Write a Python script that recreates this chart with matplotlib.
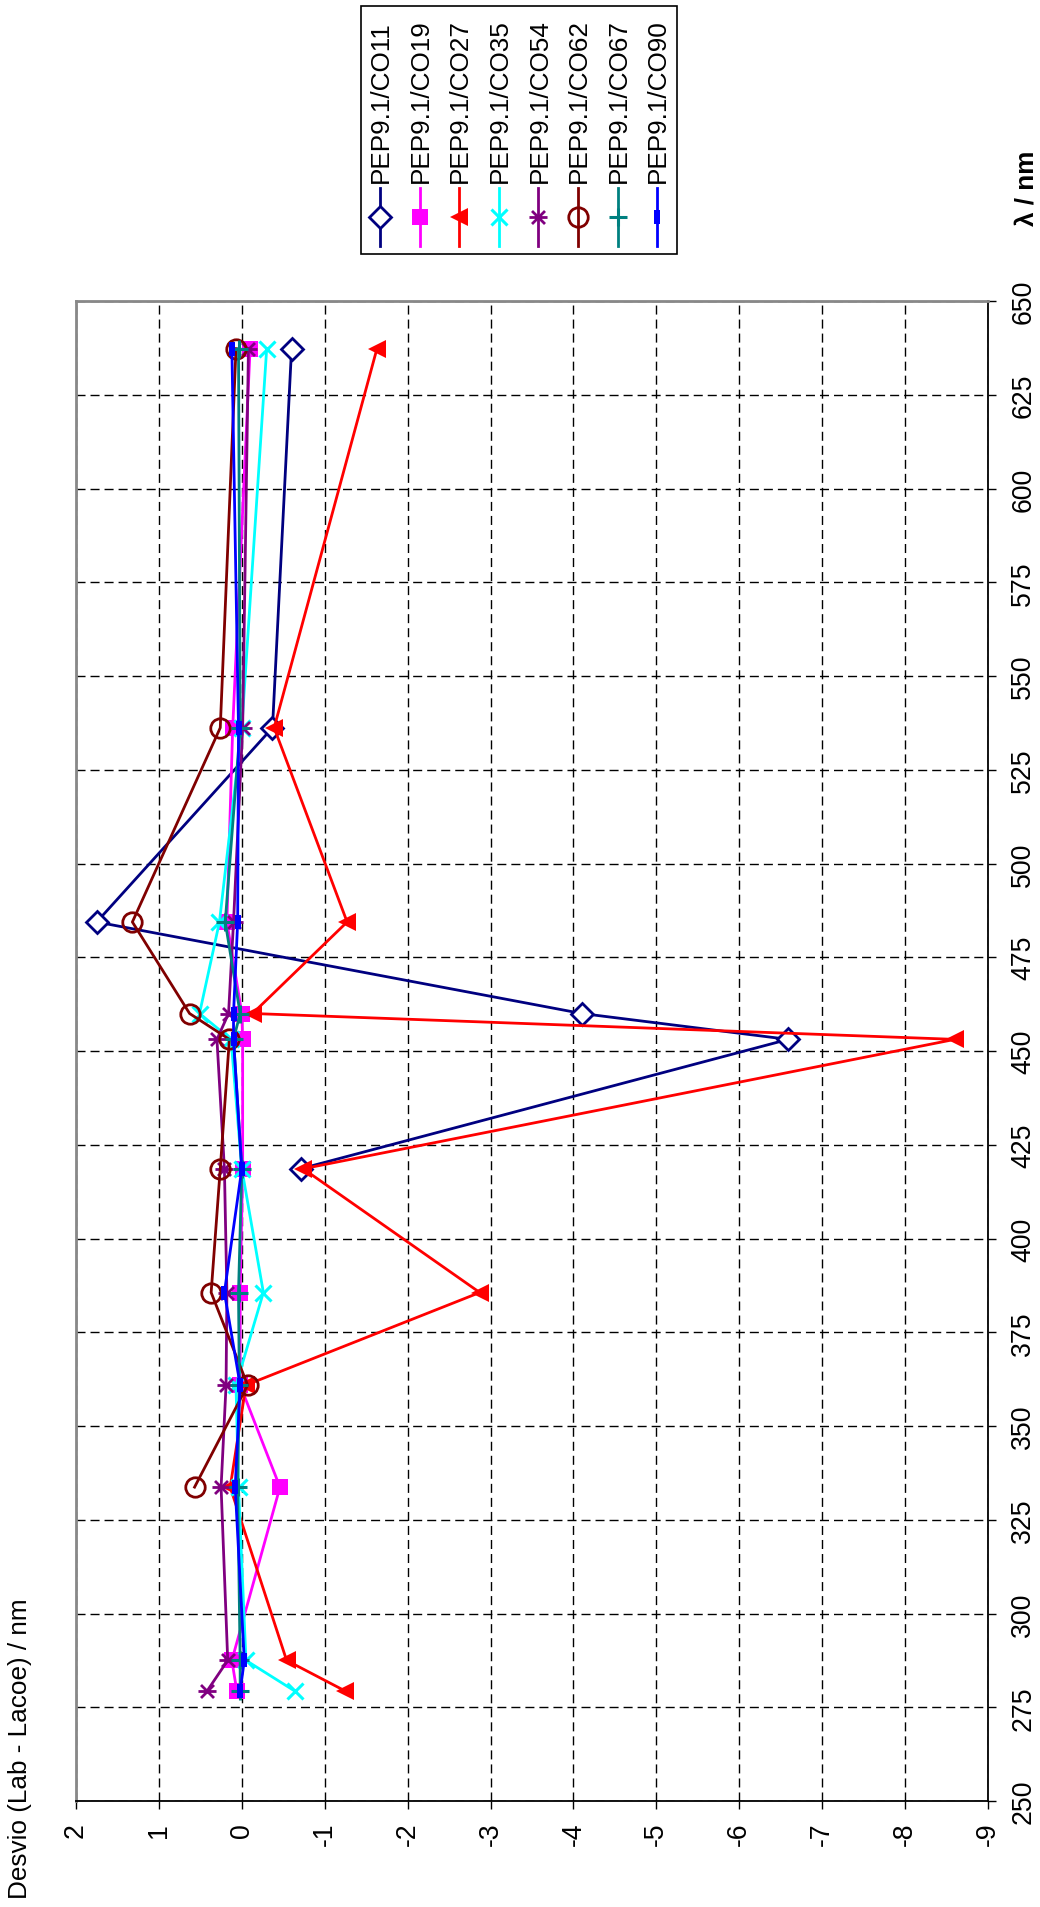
import numpy as np
import matplotlib
matplotlib.use("Agg")
import matplotlib.pyplot as plt
from matplotlib.path import Path
from matplotlib.lines import Line2D
from matplotlib.patches import Rectangle

plt.rcParams['font.family'] = ['Liberation Sans', 'DejaVu Sans']
plt.rcParams['axes.unicode_minus'] = False

# --- DATA ---
# holmium oxide bands (nm)
lam = [279.3, 287.5, 333.7, 360.9, 385.6, 418.6, 453.1, 460.0, 484.4, 536.2, 637.3]

nan = np.nan
co11 = [nan, nan, nan, nan, nan, -0.71, -6.59, -4.10, 1.75, -0.37, -0.60]
co19 = [0.06, 0.12, -0.46, 0.02, 0.02, -0.01, -0.01, 0.00, 0.18, 0.11, -0.10]
co27 = [-1.25, -0.54, 0.14, -0.05, -2.87, -0.74, -8.60, -0.13, -1.27, -0.39, -1.63]
co35 = [-0.64, -0.05, 0.04, 0.07, -0.26, 0.00, 0.13, 0.51, 0.27, 0.00, -0.30]
co54 = [0.42, 0.17, 0.25, 0.19, 0.18, 0.21, 0.30, 0.16, 0.10, -0.01, -0.08]
co62 = [nan, nan, 0.57, -0.07, 0.37, 0.26, 0.15, 0.63, 1.32, 0.26, 0.07]
co67 = [0.02, 0.02, 0.05, 0.03, 0.04, 0.00, 0.10, 0.02, 0.20, 0.02, 0.04]
co90 = [0.02, -0.03, 0.08, 0.02, 0.21, 0.00, 0.10, 0.10, 0.05, 0.04, 0.12]

names = ['PEP9.1/CO11', 'PEP9.1/CO19', 'PEP9.1/CO27', 'PEP9.1/CO35',
         'PEP9.1/CO54', 'PEP9.1/CO62', 'PEP9.1/CO67', 'PEP9.1/CO90']
series = [co11, co19, co27, co35, co54, co62, co67, co90]

desvio_ticks = [2, 1, 0, -1, -2, -3, -4, -5, -6, -7, -8, -9]
desvio_labels = ['2', '1', '0', '-1', '-2', '-3', '-4', '-5', '-6', '-7', '-8', '-9']
lam_ticks = [250, 275, 300, 325, 350, 375, 400, 425, 450, 475, 500, 525, 550, 575, 600, 625, 650]

# --- STYLES ---
star = Path([(-1, 0), (1, 0), (-0.72, -0.72), (0.72, 0.72), (-0.72, 0.72), (0.72, -0.72)],
            [Path.MOVETO, Path.LINETO, Path.MOVETO, Path.LINETO, Path.MOVETO, Path.LINETO])
bar = Path([(-0.4, -1), (0.4, -1), (0.4, 1), (-0.4, 1), (-0.4, -1)],
           [Path.MOVETO, Path.LINETO, Path.LINETO, Path.LINETO, Path.CLOSEPOLY])

styles = [
    dict(color='#000080', marker='D', ms=11.5, mfc='white', mew=2),
    dict(color='#FF00FF', marker='s', ms=11.5, mew=0),
    dict(color='#FF0000', marker='<', ms=13, mew=0),
    dict(color='#00FFFF', marker='x', ms=11, mew=2.2),
    dict(color='#800080', marker=star, ms=13, mfc='none', mew=2),
    dict(color='#800000', marker='o', ms=14, mfc='none', mew=2),
    dict(color='#008080', marker='+', ms=13, mew=2.2),
    dict(color='#0000FF', marker=bar, ms=9.5, mew=0),
]

FS = 18.8       # legend / titles
TICK_FS = 19.2  # tick labels
W, H = 1040, 1908
fig = plt.figure(figsize=(W / 100, H / 100), dpi=100)
ax = fig.add_axes([76 / W, 106 / H, 912 / W, 1500 / H])

for vals, st in zip(series, styles):
    ax.plot(vals, lam, lw=2.0, **st)

ax.set_xlim(2, -9)
ax.set_ylim(250, 650)
ax.set_xticks(desvio_ticks)
ax.set_xticklabels(desvio_labels)
ax.set_yticks(lam_ticks)
ax.yaxis.tick_right()

ax.grid(True, color='black', lw=1.0, linestyle=(0, (6.5, 3.6)))
ax.set_axisbelow(True)

ax.tick_params(axis='x', direction='out', length=6, width=1, pad=9,
               labelsize=TICK_FS, labelrotation=90)
ax.tick_params(axis='y', direction='out', length=6, width=1, pad=10,
               labelsize=TICK_FS, labelrotation=90)
for lbl in ax.get_yticklabels():
    lbl.set_ha('left')
    lbl.set_va('center')

for side in ['left', 'top']:
    ax.spines[side].set_color('#888888')
    ax.spines[side].set_linewidth(2)
for side in ['bottom', 'right']:
    ax.spines[side].set_color('black')
    ax.spines[side].set_linewidth(1.3)

# overlay in pixel units for titles and the rotated legend
ov = fig.add_axes([0, 0, 1, 1])
ov.set_xlim(0, W)
ov.set_ylim(H, 0)
ov.axis('off')

ov.text(8, 1899, 'Desvio (Lab - Lacoe) / nm', rotation=90, ha='left', va='bottom', fontsize=FS)
ov.text(1026, 188, 'λ / nm', rotation=90, ha='center', va='center',
        fontsize=FS, fontweight='bold')

ov.add_patch(Rectangle((361, 7), 316, 248, fill=False, ec='black', lw=1.2))
for i, (name, st) in enumerate(zip(names, styles)):
    x = 380 + i * 39.6
    ov.add_line(Line2D([x, x], [189, 247], lw=2.0, color=st['color']))
    ov.plot([x], [218], linestyle='none', **st)
    ov.text(x + 1, 183, name, rotation=90, ha='center', va='bottom', fontsize=FS)

fig.savefig('out.png', dpi=100)
